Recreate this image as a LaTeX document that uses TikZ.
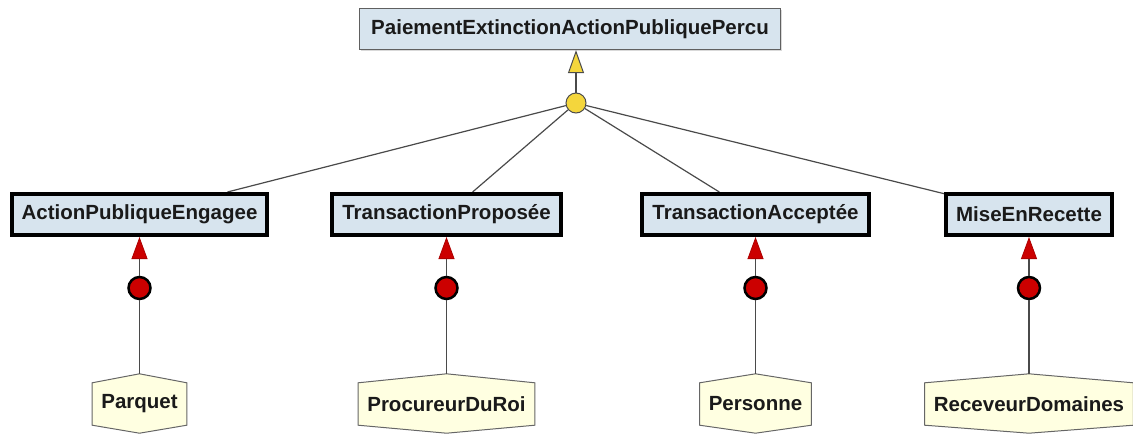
\documentclass[tikz,border=0pt]{standalone}
\usepackage{fontspec}
\setmainfont{Liberation Sans}
\usetikzlibrary{arrows.meta,shadows,backgrounds}
\definecolor{classfill}{HTML}{D7E4EE}
\definecolor{actorfill}{HTML}{FFFFE1}
\definecolor{linkgray}{HTML}{4A4A4A}
\definecolor{genyellow}{HTML}{F4D63C}
\definecolor{assocred}{HTML}{CC0000}
\definecolor{inktext}{HTML}{1A1A1A}
\begin{document}
\begin{tikzpicture}[x=1pt,y=-1pt,
  font=\fontsize{20.5}{24}\selectfont\bfseries,
  every node/.style={text=inktext},
  rootclass/.style={draw=gray!75!black, line width=1.2pt, fill=classfill,
    inner xsep=12pt, minimum height=41pt,
    drop shadow={shadow xshift=1.5pt, shadow yshift=-1.5pt, opacity=0.3}},
  subclass/.style={draw=black, line width=4pt, fill=classfill,
    inner xsep=10pt, minimum height=41pt,
    drop shadow={shadow xshift=1.5pt, shadow yshift=-1.5pt, opacity=0.3}},
  actor/.style={inner xsep=9pt, minimum height=42pt},
  actorshape/.style={draw=gray!80!black, line width=1pt, fill=actorfill},
  gendot/.style={circle, fill=genyellow, draw=gray!60!black, line width=1pt,
    minimum size=20pt, inner sep=0pt},
  assocdot/.style={circle, fill=assocred, draw=black, line width=2.5pt,
    minimum size=22pt, inner sep=0pt},
  link/.style={draw=linkgray, line width=1.2pt},
  genarrow/.style={link, -{Triangle[length=23pt,width=16pt,fill=genyellow,color=gray!60!black,line width=1pt]}},
  assocarrow/.style={link, -{Triangle[length=22pt,width=16pt,fill=assocred,color=assocred!85!black,line width=0.8pt]}}
]
\useasboundingbox (0,0) rectangle (1133,434);

% generalisation root
\node[rootclass] (root) at (570,29) {PaiementExtinctionActionPubliquePercu};
\node[gendot] (gen) at (576,103) {};

% specialised classes
\node[subclass] (b1) at (139.5,214.5) {ActionPubliqueEngagee};
\node[subclass] (b2) at (446.5,214.5) {TransactionProposée};
\node[subclass] (b3) at (755.5,214.5) {TransactionAcceptée};
\node[subclass] (b4) at (1029,214.5) {MiseEnRecette};

% association points
\node[assocdot] (r1) at (139.5,288) {};
\node[assocdot] (r2) at (446.5,288) {};
\node[assocdot] (r3) at (755.5,288) {};
\node[assocdot] (r4) at (1029,288) {};

% actors
\node[actor] (h1) at (139.5,404) {Parquet};
\node[actor] (h2) at (446.5,404) {ProcureurDuRoi};
\node[actor] (h3) at (755.5,404) {Personne};
\node[actor] (h4) at (1029,404) {ReceveurDomaines};

\begin{scope}[on background layer]
  \foreach \h in {h1,h2,h3,h4}{
    \draw[actorshape] (\h.north west) -- ([yshift=9pt]\h.north) -- (\h.north east)
      -- (\h.south east) -- ([yshift=-8pt]\h.south) -- (\h.south west) -- cycle;
    \coordinate (\h top) at ([yshift=9pt]\h.north);
  }
  % generalisation links
  \foreach \b in {b1,b2,b3,b4}{
    \draw[link] (gen) -- (\b);
  }
\end{scope}

\draw[genarrow] (gen) -- (gen |- root.south);

\foreach \i in {1,2,3,4}{
  \draw[link] (h\i top) -- (r\i);
  \draw[assocarrow] (r\i) -- (b\i);
}
\end{tikzpicture}
\end{document}
